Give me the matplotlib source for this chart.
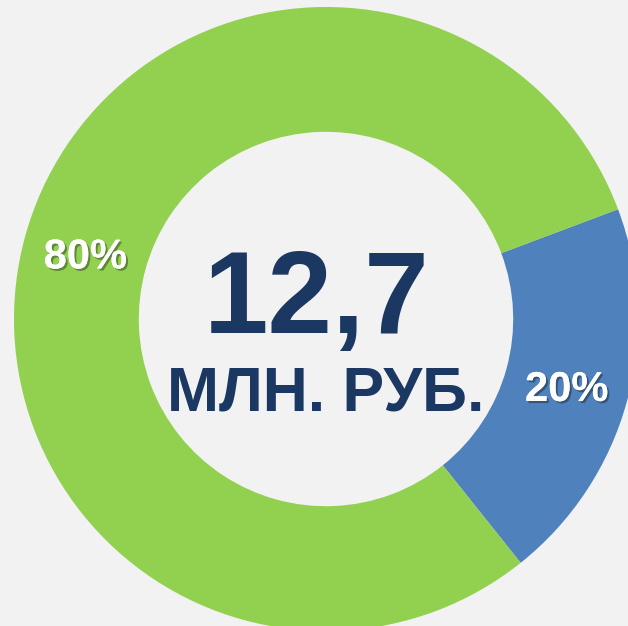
import matplotlib.pyplot as plt
from matplotlib import patheffects

# data
labels = ["Blue part", "Green part"]
shares = [20, 80]
colours = ["#4F81BD", "#92D050"]
total_value = "12,7"
total_unit = "МЛН. РУБ."

plt.rcParams['font.family'] = ['Liberation Sans', 'DejaVu Sans']

fig = plt.figure(figsize=(6.28, 6.26), dpi=100)
fig.patch.set_facecolor("#F2F2F2")
ax = fig.add_axes([0, 0, 1, 1])
ax.set_facecolor("#F2F2F2")

wedges, texts, autotexts = ax.pie(shares, colors=colours, startangle=20.6, counterclock=False,
                                  autopct="%1.0f%%", pctdistance=0.8,
                                  wedgeprops=dict(width=0.4, linewidth=0),
                                  textprops=dict(color="white", fontsize=30, fontweight="bold"))

shadow = [patheffects.withSimplePatchShadow(offset=(1.5, -1.5), shadow_rgbFace="black", alpha=0.35),
          patheffects.Normal()]
for t in autotexts:
    t.set_path_effects(shadow)
    # labels sit a little lower in the original
    x, y = t.get_position()
    t.set_position((x, y - 0.015))

# centre label
ax.text(-0.029, -0.045, total_value, ha="center", va="baseline", fontsize=83.5,
        fontweight="bold", color="#1A3862")
ax.text(0.0, -0.292, total_unit, ha="center", va="baseline", fontsize=45,
        fontweight="bold", color="#1A3862")

# the ring is cut off on the right and at the bottom
ax.set_aspect("auto")
ax.set_xlim(-326 / 312, (628 - 326) / 312)
ax.set_ylim((319 - 626) / 312, 319 / 312)
ax.axis("off")

plt.savefig("out.png", dpi=100, facecolor=fig.get_facecolor())
